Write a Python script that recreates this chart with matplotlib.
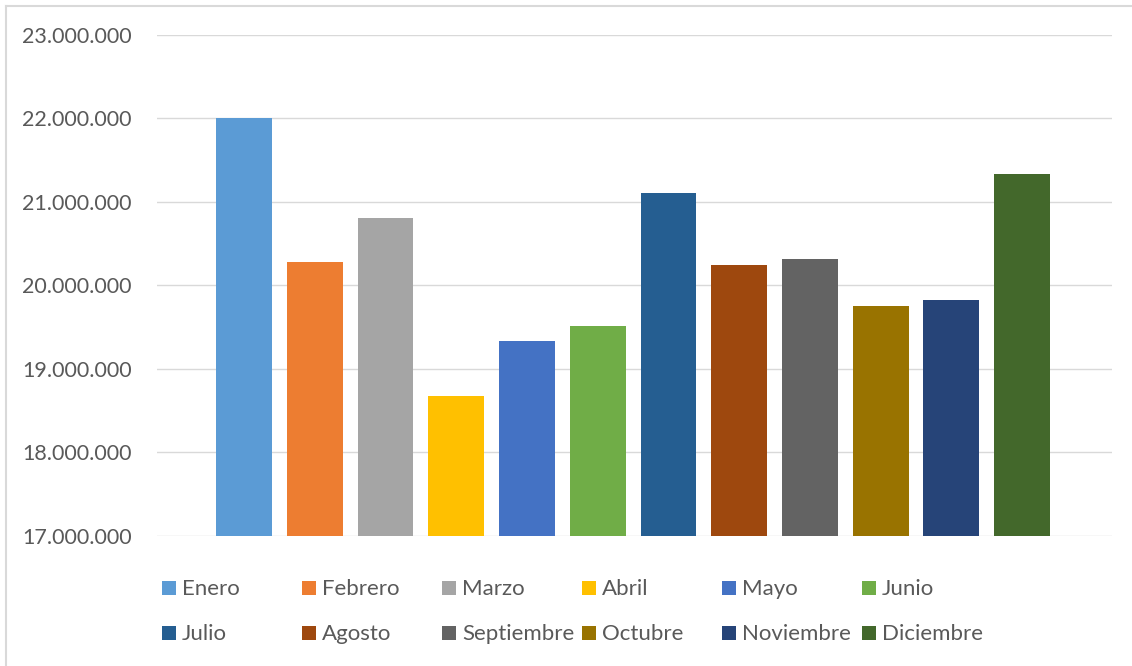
import numpy as np
import matplotlib.pyplot as plt
from matplotlib.patches import Rectangle
from matplotlib.lines import Line2D

plt.rcParams['font.family'] = ['Lato', 'DejaVu Sans']

meses = ["Enero", "Febrero", "Marzo", "Abril", "Mayo", "Junio",
         "Julio", "Agosto", "Septiembre", "Octubre", "Noviembre", "Diciembre"]
valores = [22005000, 20280000, 20810000, 18680000, 19340000, 19510000,
           21110000, 20250000, 20320000, 19750000, 19830000, 21340000]
colores = ["#5B9BD5", "#ED7D31", "#A5A5A5", "#FFC000", "#4472C4", "#70AD47",
           "#255E91", "#9E480E", "#636363", "#997300", "#264478", "#43682B"]
yticks = [17000000, 18000000, 19000000, 20000000, 21000000, 22000000, 23000000]

W, H = 1132, 666
texto = "#595959"
rejilla = "#d9d9d9"

fig = plt.figure(figsize=(W / 100, H / 100), dpi=100)
ax = fig.add_axes([157 / W, 1 - 536 / H, (1112 - 157) / W, (536 - 35) / H])

x = np.arange(len(meses))
ax.bar(x, valores, width=0.79, color=colores, zorder=2)

ax.set_xlim(-1.23, 12.27)
ax.set_ylim(yticks[0], yticks[-1])
ax.set_yticks(yticks)
ax.set_yticklabels([f"{v:,}".replace(",", ".") for v in yticks],
                   fontsize=15.5, color=texto)
ax.tick_params(axis="y", length=0, pad=18)
ax.set_xticks([])
ax.grid(axis="y", color=rejilla, linewidth=1.0, zorder=0)
for s in ax.spines.values():
    s.set_visible(False)

# leyenda en dos filas de seis
for i, (mes, col) in enumerate(zip(meses, colores)):
    fila, colm = divmod(i, 6)
    px = 162 + colm * 140
    py = 588 + fila * 45
    fig.patches.append(Rectangle((px / W, 1 - (py + 7) / H), 14 / W, 14 / H,
                                 transform=fig.transFigure, color=col,
                                 linewidth=0))
    fig.text((px + 20) / W, 1 - (py + 1) / H, mes, fontsize=16, color=texto,
             va="center", ha="left")

# marco del gráfico
fig.add_artist(Line2D([5.5 / W, 5.5 / W], [0, 1 - 5.5 / H],
                      transform=fig.transFigure, color=rejilla, lw=1.5))
fig.add_artist(Line2D([5.5 / W, 1], [1 - 5.5 / H, 1 - 5.5 / H],
                      transform=fig.transFigure, color=rejilla, lw=1.5))

fig.savefig("out.png", dpi=100, facecolor="white")
plt.close(fig)
